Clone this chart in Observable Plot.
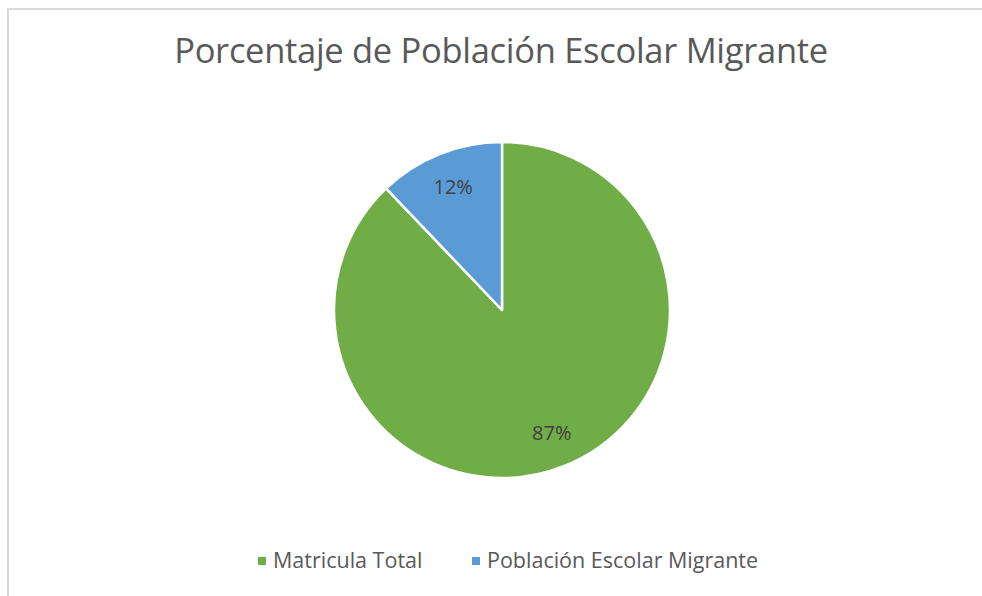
<!DOCTYPE html>
<html><head><meta charset="utf-8">
<script src="https://cdn.jsdelivr.net/npm/d3@7"></script>
<script src="https://cdn.jsdelivr.net/npm/@observablehq/plot@0.6"></script>
<style>
body{margin:0;background:#fff;}
#wrap{position:relative;width:982px;height:596px;overflow:hidden;background:#fff;}
#frame{position:absolute;left:7px;top:8px;width:1000px;height:620px;border-top:2px solid #d9d9d9;border-left:2px solid #d9d9d9;box-sizing:border-box;}
#chart{position:absolute;left:0;top:0;}
#title{position:absolute;left:0;width:1002px;top:27px;text-align:center;font-family:"Open Sans",sans-serif;font-size:34.5px;color:#595959;letter-spacing:-0.3px;white-space:nowrap;line-height:46px;}
#legend{position:absolute;top:546px;left:0;width:982px;font-family:"Open Sans",sans-serif;font-size:21.5px;color:#595959;white-space:nowrap;line-height:28px;}
.li{position:absolute;top:0;display:flex;align-items:center;}
.sw{width:8px;height:8px;margin-right:7px;margin-top:2px;}
</style>
</head><body>
<div id="wrap">
<div id="frame"></div>
<div id="chart"></div>
<div id="title"></div>
<div id="legend"></div>
</div>
<script>
const title = "Porcentaje de Población Escolar Migrante";
const categories = ["Matricula Total", "Población Escolar Migrante"];
const values = [87, 12];
const labels = ["87%", "12%"];
const colors = ["#70AD47", "#5B9BD5"];

const arcs = d3.pie().sort(null).value(d => d.value)(
  categories.map((c, i) => ({category: c, value: values[i], label: labels[i], color: colors[i]}))
);
const labelR = 0.79;
const labelData = arcs.map(a => {
  const m = (a.startAngle + a.endAngle) / 2;
  return {label: a.data.label, x: labelR * Math.sin(m), y: labelR * Math.cos(m)};
});

function pieMark(data) {
  return function(index, scales) {
    const cx = scales.x(0), cy = scales.y(0);
    const r = Math.abs(scales.x(1) - scales.x(0));
    const g = d3.create("svg:g").attr("transform", `translate(${cx},${cy})`);
    const arc = d3.arc().innerRadius(0).outerRadius(r);
    g.selectAll("path").data(data).join("path")
      .attr("d", arc)
      .attr("fill", d => d.data.color)
      .attr("stroke", "#fff")
      .attr("stroke-width", 2.5)
      .attr("stroke-linejoin", "round");
    return g.node();
  };
}

const chart = Plot.plot({
  width: 982,
  height: 596,
  marginLeft: 334,
  marginRight: 312,
  marginTop: 142,
  marginBottom: 118,
  x: {domain: [-1, 1], axis: null},
  y: {domain: [-1, 1], axis: null},
  style: {background: "transparent", overflow: "visible"},
  marks: [
    pieMark(arcs),
    Plot.text(labelData, {x: "x", y: "y", text: "label", fill: "#404040",
      fontSize: 20, fontFamily: "Open Sans, sans-serif"})
  ]
});
document.getElementById("chart").appendChild(chart);
document.getElementById("title").textContent = title;

const leg = d3.select("#legend");
const legX = [258, 472];
categories.forEach((c, i) => {
  const item = leg.append("div").attr("class", "li").style("left", legX[i] + "px");
  item.append("div").attr("class", "sw").style("background", colors[i]);
  item.append("span").text(c);
});
</script>
</body></html>
